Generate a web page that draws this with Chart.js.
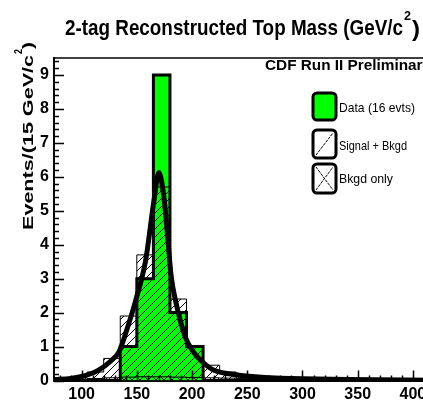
<!DOCTYPE html>
<html lang="en">
<head>
  <meta charset="UTF-8">
  <title>2-tag Reconstructed Top Mass</title>
  <script src="https://cdn.jsdelivr.net/npm/chart.js"></script>
  <style>
    body {
      margin: 0;
      background-color: #ffffff;
      overflow: hidden;
    }
    canvas {
      display: block;
    }
  </style>
</head>
<body>
  <canvas id="massChart" width="450" height="401"></canvas>

  <script>
    // 23 bins of 15 GeV/c^2 from 75 to 420
    const binStart = 75;
    const binWidth = 15;
    const dataCounts = [0, 0, 0, 0, 1, 3, 9, 2, 1, 0, 0, 0, 0, 0, 0, 0, 0, 0, 0, 0, 0, 0, 0];
    const signalBkgd = [0.04, 0.1, 0.25, 0.65, 1.9, 3.7, 5.7, 2.4, 1.0, 0.45, 0.25, 0.15, 0.1, 0.07, 0.05, 0.04, 0.03, 0.02, 0.02, 0.01, 0.01, 0.01, 0.01];
    const bkgdOnly = [0.02, 0.04, 0.06, 0.08, 0.1, 0.11, 0.11, 0.1, 0.09, 0.08, 0.07, 0.06, 0.05, 0.04, 0.03, 0.03, 0.02, 0.02, 0.02, 0.01, 0.01, 0.01, 0.01];

    // fitted signal + background shape
    const fitMass = [75, 90, 104, 115, 127, 134, 140, 149, 158, 165.5, 170, 174.5, 178, 181, 185, 194, 201, 208, 220, 240, 260, 280, 300, 340, 420];
    const fitEvents = [0.03, 0.06, 0.15, 0.3, 0.59, 0.85, 1.4, 2.36, 3.54, 5.3, 6.13, 5.4, 4.2, 3.1, 2.36, 1.27, 0.85, 0.59, 0.3, 0.17, 0.1, 0.07, 0.05, 0.03, 0.01];

    const xTicks = [100, 150, 200, 250, 300, 350, 400];
    const yTicks = [0, 1, 2, 3, 4, 5, 6, 7, 8, 9];

    const narrow = '"Liberation Sans Narrow", "Liberation Sans", Arial, sans-serif';

    // outline of a histogram, one point per bin edge (stepped line)
    function histPoints(counts) {
      const pts = [{ x: binStart, y: 0 }];
      counts.forEach((c, i) => pts.push({ x: binStart + (i + 1) * binWidth, y: c }));
      pts.push({ x: binStart + counts.length * binWidth, y: 0 });
      return pts;
    }

    function hatch(cross) {
      const c = document.createElement('canvas');
      c.width = 8;
      c.height = 8;
      const g = c.getContext('2d');
      g.strokeStyle = '#000000';
      g.lineWidth = 1;
      g.beginPath();
      g.moveTo(-1, 9); g.lineTo(9, -1);
      g.moveTo(-1, 1); g.lineTo(1, -1);
      g.moveTo(7, 9); g.lineTo(9, 7);
      if (cross) {
        g.moveTo(-1, -1); g.lineTo(9, 9);
      }
      g.stroke();
      return g.createPattern(c, 'repeat');
    }

    // text squeezed to a given width
    function fitText(ctx, text, x, y, width, font) {
      ctx.font = font;
      const w = ctx.measureText(text).width;
      ctx.save();
      ctx.translate(x, y);
      ctx.scale(width / w, 1);
      ctx.fillText(text, 0, 0);
      ctx.restore();
    }

    function roundBox(ctx, x, y, w, h, fill) {
      ctx.beginPath();
      ctx.roundRect(x, y, w, h, 4);
      ctx.fillStyle = fill;
      ctx.fill();
      ctx.lineWidth = 3;
      ctx.strokeStyle = '#000000';
      ctx.stroke();
    }

    const decorations = {
      id: 'decorations',
      afterDraw(chart) {
        const ctx = chart.ctx;
        const area = chart.chartArea;
        const xs = chart.scales.x;
        const ys = chart.scales.y;
        ctx.save();
        ctx.fillStyle = '#000000';
        ctx.strokeStyle = '#000000';
        ctx.textBaseline = 'alphabetic';
        ctx.textAlign = 'left';

        // frame top
        ctx.lineWidth = 1.5;
        ctx.beginPath();
        ctx.moveTo(area.left, area.top);
        ctx.lineTo(area.right, area.top);
        ctx.stroke();

        // inner tick marks
        ctx.lineWidth = 1.5;
        ctx.beginPath();
        for (let k = 0; k <= 47; k++) {
          const y = Math.round(ys.getPixelForValue(k / 5)) + 0.5;
          const len = k % 5 === 0 ? 10 : 5;
          ctx.moveTo(area.left, y);
          ctx.lineTo(area.left + len, y);
        }
        for (let m = 80; m <= 420; m += 10) {
          const x = Math.round(xs.getPixelForValue(m)) + 0.5;
          const len = m % 50 === 0 ? 10 : 5;
          ctx.moveTo(x, area.bottom);
          ctx.lineTo(x, area.bottom - len);
        }
        ctx.stroke();

        // title
        fitText(ctx, '2-tag Reconstructed Top Mass (GeV/c', 65, 35, 338, 'bold 22px ' + narrow);
        fitText(ctx, '2', 404, 20, 7, 'bold 13px ' + narrow);
        fitText(ctx, ')', 412, 36, 8, 'bold 22px ' + narrow);

        // y axis title
        ctx.save();
        ctx.translate(33, 230);
        ctx.rotate(-Math.PI / 2);
        fitText(ctx, 'Events/(15 GeV/c', 0, 0, 175, 'bold 15px ' + narrow);
        fitText(ctx, '2', 176, -11, 5, 'bold 10px ' + narrow);
        fitText(ctx, ')', 181, 0, 7, 'bold 15px ' + narrow);
        ctx.restore();

        // legend
        fitText(ctx, 'CDF Run II Preliminary', 265, 70, 166, 'bold 15px ' + narrow);

        roundBox(ctx, 313, 93, 23, 27, '#00ff00');
        roundBox(ctx, 313, 130, 23, 28, '#ffffff');
        roundBox(ctx, 313, 164, 23, 29, '#ffffff');
        ctx.lineWidth = 1;
        ctx.setLineDash([3, 1]);
        ctx.beginPath();
        ctx.moveTo(316, 155); ctx.lineTo(333, 133);
        ctx.moveTo(316, 190); ctx.lineTo(333, 167);
        ctx.moveTo(316, 167); ctx.lineTo(333, 190);
        ctx.stroke();
        ctx.setLineDash([]);

        ctx.fillStyle = '#000000';
        fitText(ctx, 'Data (16 evts)', 339, 111.5, 76, '13px ' + narrow);
        fitText(ctx, 'Signal + Bkgd', 339, 149.5, 68, '13px ' + narrow);
        fitText(ctx, 'Bkgd only', 339, 182.5, 54, '13px ' + narrow);

        ctx.restore();
      }
    };

    const tickFont = { family: narrow, size: 16, weight: 'bold' };

    const ctx = document.getElementById('massChart').getContext('2d');
    const massChart = new Chart(ctx, {
      type: 'line',
      data: {
        datasets: [
          {
            label: 'Data (16 evts)',
            data: histPoints(dataCounts),
            stepped: 'after',
            fill: 'origin',
            backgroundColor: '#00ff00',
            borderColor: '#000000',
            borderWidth: 3,
            borderJoinStyle: 'miter',
            pointRadius: 0,
            order: 4
          },
          {
            label: 'Signal + Bkgd',
            data: histPoints(signalBkgd),
            stepped: 'after',
            fill: 'origin',
            backgroundColor: hatch(false),
            borderColor: '#000000',
            borderWidth: 1,
            pointRadius: 0,
            order: 3
          },
          {
            label: 'Bkgd only',
            data: histPoints(bkgdOnly),
            stepped: 'after',
            fill: 'origin',
            backgroundColor: hatch(true),
            borderColor: '#000000',
            borderWidth: 1,
            pointRadius: 0,
            order: 2
          },
          {
            label: 'Fit',
            data: fitMass.map((m, i) => ({ x: m, y: fitEvents[i] })),
            cubicInterpolationMode: 'monotone',
            fill: false,
            borderColor: '#000000',
            borderWidth: 5,
            pointRadius: 0,
            order: 1
          }
        ]
      },
      options: {
        responsive: false,
        devicePixelRatio: 1,
        animation: false,
        layout: {
          padding: { top: 58, right: 15, left: 0, bottom: 0 }
        },
        plugins: {
          legend: { display: false },
          tooltip: { enabled: false }
        },
        scales: {
          x: {
            type: 'linear',
            min: 75,
            max: 420,
            afterBuildTicks: (scale) => { scale.ticks = xTicks.map(v => ({ value: v })); },
            afterFit: (scale) => { scale.height = 20.5; },
            ticks: { color: '#000000', font: tickFont, padding: 4, maxRotation: 0, autoSkip: false },
            grid: { display: false, drawTicks: false },
            border: { display: true, color: '#000000', width: 3 }
          },
          y: {
            min: 0,
            max: 9.5,
            afterBuildTicks: (scale) => { scale.ticks = yTicks.map(v => ({ value: v })); },
            afterFit: (scale) => { scale.width = 54; },
            ticks: { color: '#000000', font: tickFont, padding: 5 },
            grid: { display: false, drawTicks: false },
            border: { display: true, color: '#000000', width: 2 }
          }
        }
      },
      plugins: [decorations]
    });
  </script>
</body>
</html>
